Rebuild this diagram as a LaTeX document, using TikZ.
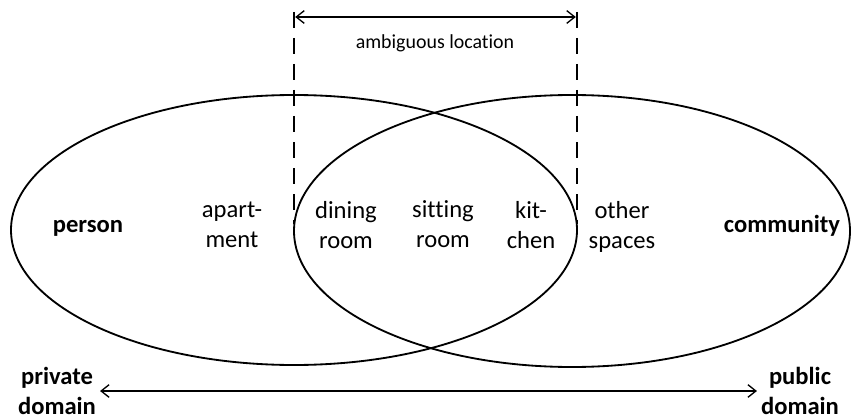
\documentclass[tikz,border=0pt]{standalone}
\usepackage{fontspec}
\setmainfont{Carlito}[Ligatures=NoCommon]
\usetikzlibrary{arrows.meta, positioning}

\begin{document}
\begin{tikzpicture}[x=0.3mm, y=-0.3mm,
    roomlabel/.style={align=center, font=\fontsize{21pt}{25.6pt}\selectfont,
      execute at begin node=\strut, execute at end node=\strut},
    setlabel/.style={anchor=base, font=\fontsize{21pt}{25.6pt}\selectfont\bfseries},
    domainlabel/.style={roomlabel, font=\fontsize{21pt}{25.6pt}\selectfont\bfseries},
    boundary/.style={line width=0.55mm, dash pattern=on 4.8mm off 3mm},
    rangearrow/.style={line width=0.4mm, {Straight Barb[length=2.4mm,width=3.8mm]}-{Straight Barb[length=2.4mm,width=3.8mm]}}]
        \useasboundingbox (0,0) rectangle (852,419);

        % Person and community sets
        \draw[line width=0.55mm] (294,230) ellipse [x radius=283, y radius=135];
        \draw[line width=0.55mm] (572,231) ellipse [x radius=278, y radius=136];

        % Set labels
        \node[setlabel] (person) at (88,232) {person};
        \node[setlabel] (community) at (782,232) {community};

        % Rooms and spaces
        \node[roomlabel] (apartment) at (232,229) {apart-\\ment};
        \node[roomlabel] (dining) at (346,229) {dining\\room};
        \node[roomlabel] (sitting) at (443,229) {sitting\\room};
        \node[roomlabel] (kitchen) at (531,229) {kit-\\chen};
        \node[roomlabel] (other) at (622,229) {other\\spaces};

        % Ambiguous location bounds
        \coordinate (ambtopL) at (294,12);
        \coordinate (ambbotL) at (294,224);
        \coordinate (ambtopR) at (577,12);
        \coordinate (ambbotR) at (577,224);
        \draw[boundary] (ambtopL) -- (ambbotL);
        \draw[boundary] (ambtopR) -- (ambbotR);
        \coordinate (ambarrL) at (294,17);
        \coordinate (ambarrR) at (577,17);
        \draw[rangearrow, shorten <=1pt, shorten >=1pt] (ambarrL) -- (ambarrR);
        \node[font=\fontsize{17pt}{20pt}\selectfont] (ambig) at (435,43) {ambiguous location};

        % Private to public scale
        \node[domainlabel] (private) at (57,395) {private\\domain};
        \node[domainlabel] (public) at (800,395) {public\\domain};
        \draw[rangearrow] ([yshift=1.2mm]private.east) -- ([yshift=1.2mm]public.west);
      \end{tikzpicture}
\end{document}
